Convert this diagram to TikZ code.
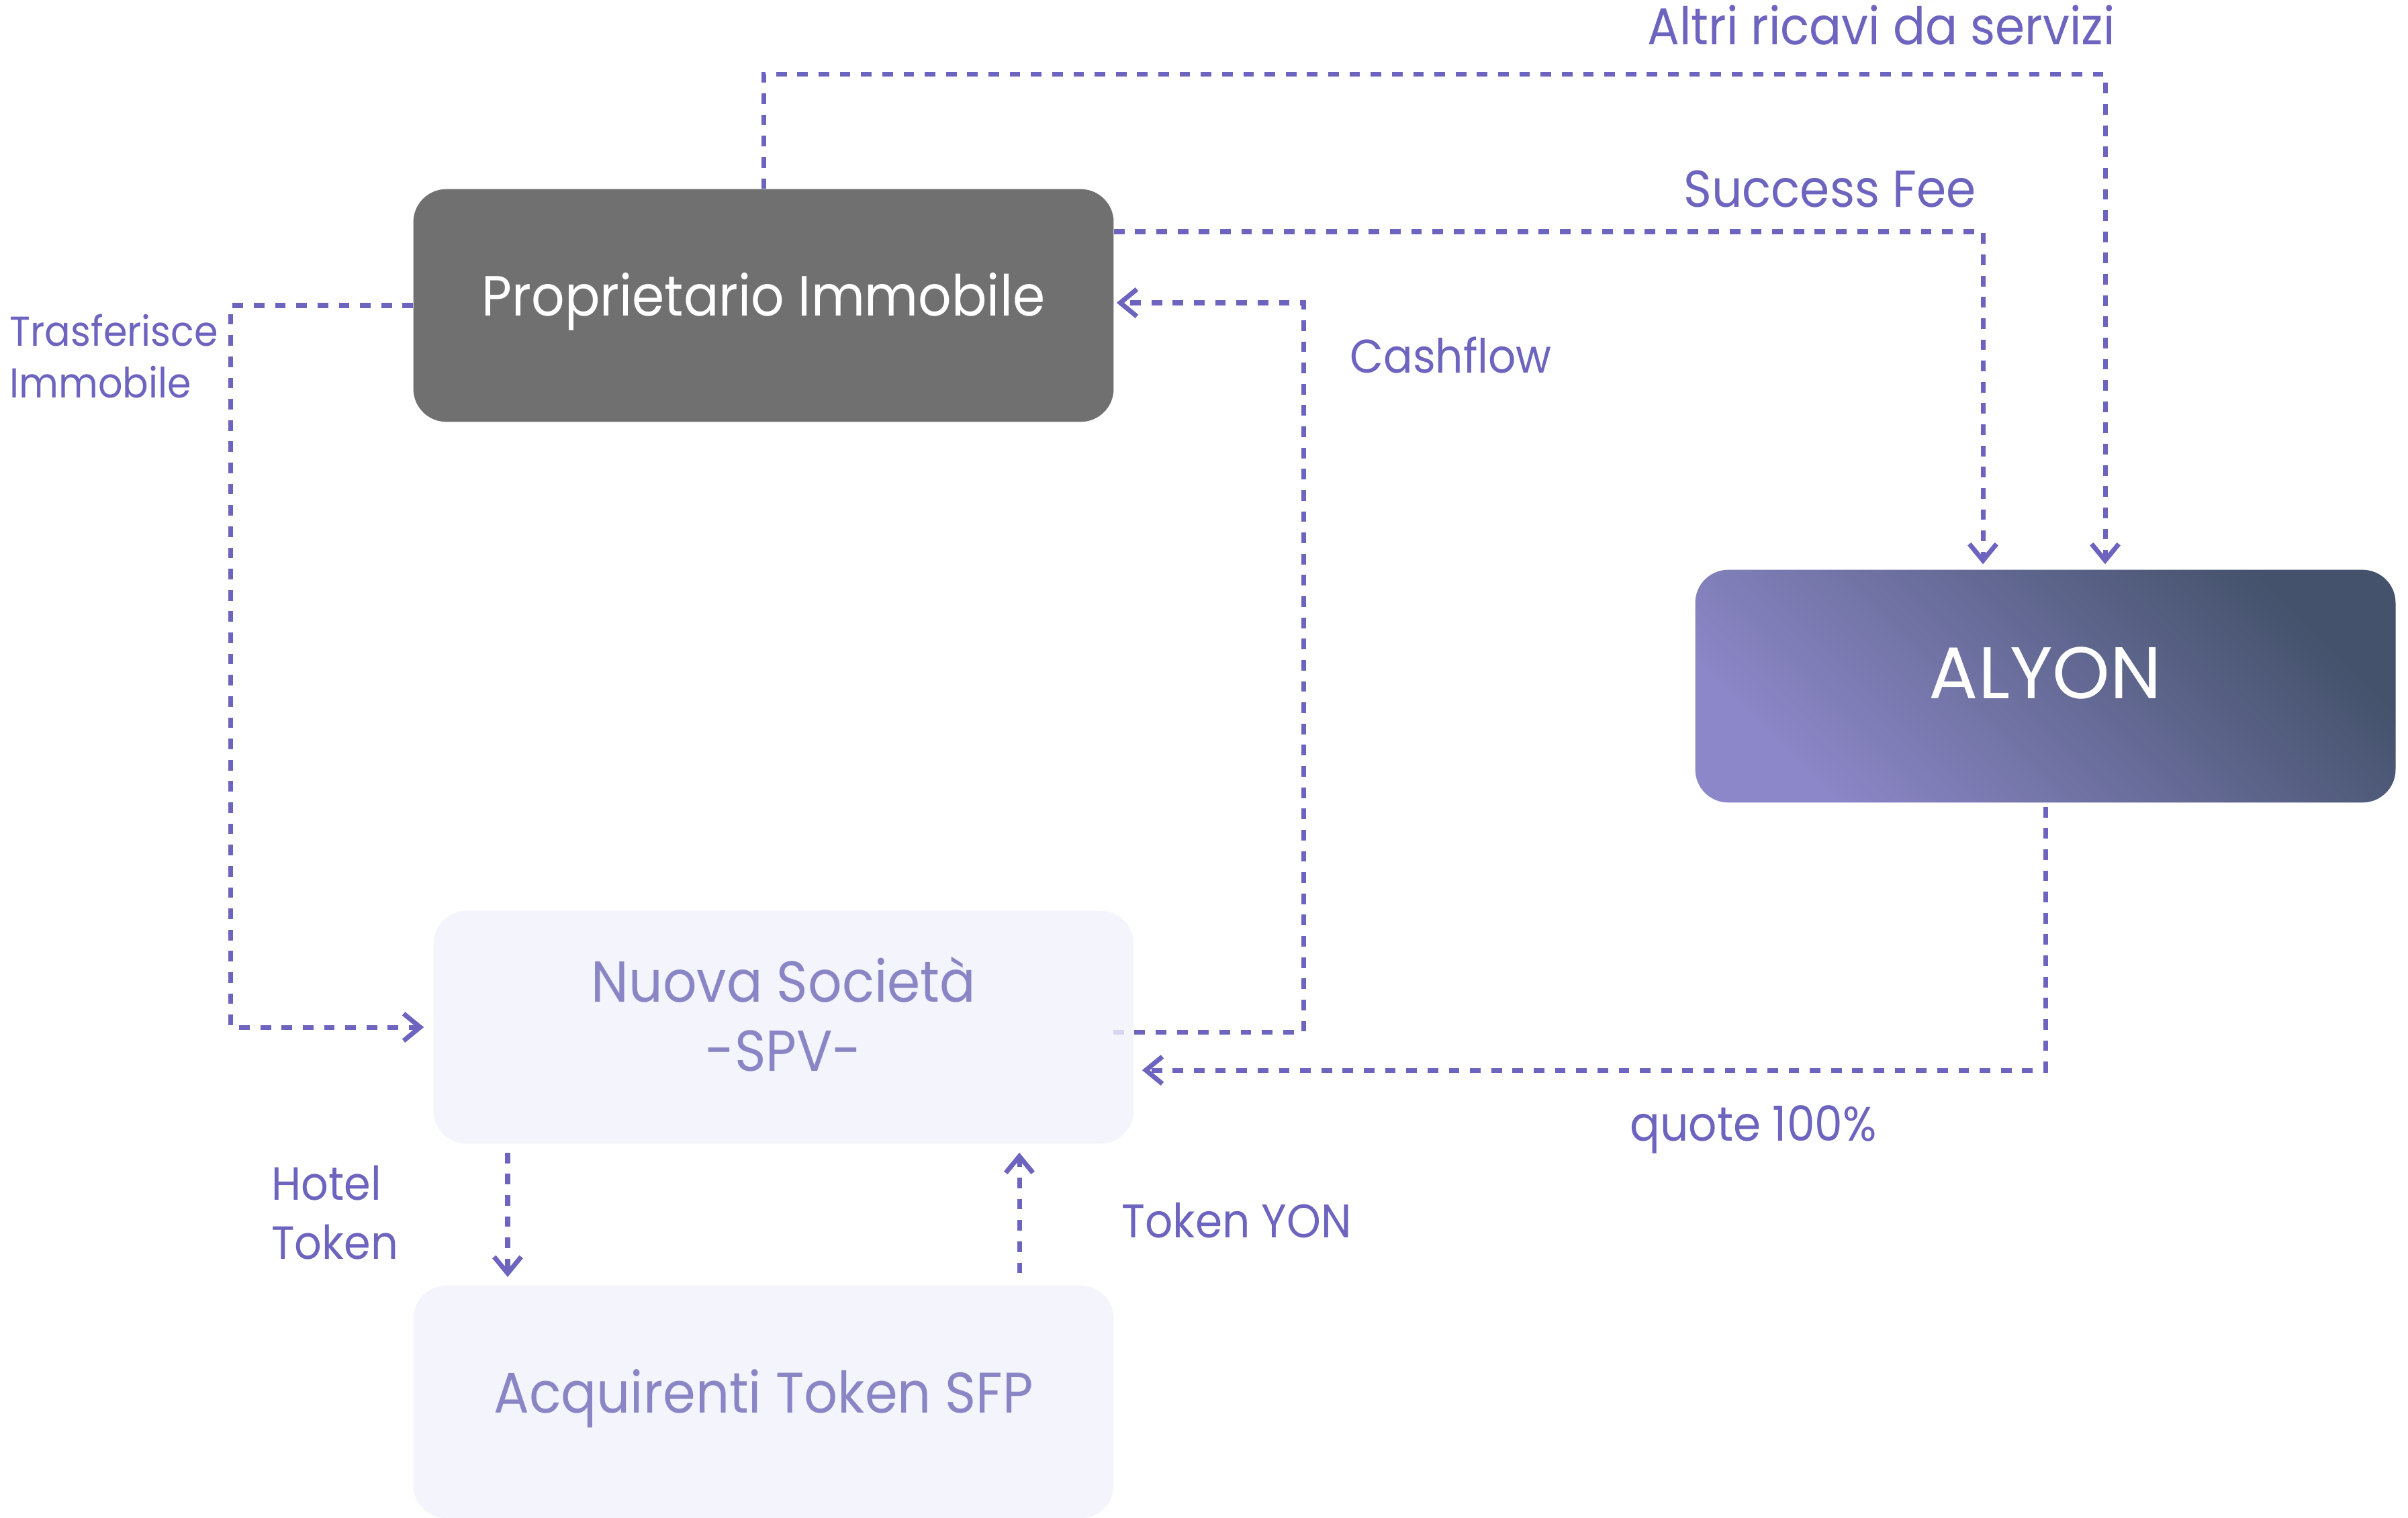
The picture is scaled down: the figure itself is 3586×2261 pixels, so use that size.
\documentclass[tikz,border=0pt]{standalone}
\usepackage{fontspec}
\setmainfont{Poppins}[FakeStretch=0.92]
\newfontfamily\alyfont{Poppins}
\usetikzlibrary{arrows.meta,calc,backgrounds}
\definecolor{flowc}{RGB}{108,100,190}
\definecolor{propc}{RGB}{112,112,112}
\definecolor{spvfill}{RGB}{241,241,251}
\definecolor{acqfill}{RGB}{244,244,252}
\definecolor{softtxt}{RGB}{138,134,198}
\definecolor{alyA}{RGB}{140,135,200}
\definecolor{alyB}{RGB}{68,82,107}
\tikzset{
  box/.style={rectangle, rounded corners=28pt, minimum width=593.6pt, minimum height=197.3pt, inner sep=0pt},
  flow/.style={draw=flowc, line width=4pt, dash pattern=on 9pt off 9pt,
    -{Straight Barb[length=14pt,width=23pt,line width=4pt]}},
  flowlabel/.style={text=flowc, inner sep=0pt, anchor=base west},
}
\begin{document}
\begin{tikzpicture}[x=0.02cm, y=-0.02cm]
\useasboundingbox (0,0) rectangle (3586,2261);

% boxes
\node[box, fill=propc, text=white, font=\fontsize{48}{59}\selectfont,
      text height=30pt, text depth=12pt] (prop) at (1137,455) {Proprietario Immobile};
\node[box, top color=alyA, bottom color=alyB, shading angle=135, text=white,
      font=\alyfont\fontsize{62}{70}\selectfont, text height=35pt, text depth=13.5pt] (alyon) at (3046,1022) {ALYON};
\node[box, fill=spvfill, fill opacity=0.8, text opacity=1, text=softtxt, align=center,
      font=\fontsize{49}{59}\selectfont, text height=80pt, text depth=5.2pt] (spv) at (1167,1530) {Nuova Società\\-SPV-};
\node[box, fill=acqfill, text=softtxt, font=\fontsize{48.5}{59}\selectfont,
      text height=31pt, text depth=11.7pt] (acq) at (1137,2088) {Acquirenti Token SFP};

% labels
\node[flowlabel, font=\fontsize{44}{50}\selectfont] (lalt) at (2453,67) {Altri ricavi da servizi};
\node[flowlabel, font=\fontsize{44}{50}\selectfont] (lsucc) at (2507,308) {Success Fee};
\node[flowlabel, align=left, font=\fontsize{35.4}{43.7}\selectfont] (ltras) at (14,592) {Trasferisce\\Immobile};
\node[flowlabel, font=\fontsize{40}{50}\selectfont] (lcash) at (2010,555) {Cashflow};
\node[flowlabel, font=\fontsize{41}{50}\selectfont] (lquote) at (2427,1699) {quote 100\%};
\node[flowlabel, align=left, font=\fontsize{39.5}{50}\selectfont] (lhotel) at (404,1875) {Hotel\\Token};
\node[flowlabel, font=\fontsize{40}{50}\selectfont] (ltok) at (1670,1843) {Token YON};

\begin{scope}[on background layer]
  % Altri ricavi da servizi
  \draw[flow] (prop.north) -- ++(0,-171) -| ($(alyon.north)+(89,-8)$);
  % Success Fee
  \draw[flow] ($(prop.east)+(0,-110)$) -| ($(alyon.north)+(-93,-8)$);
  % Trasferisce Immobile
  \draw[flow] (prop.west) -- ++(-272,0) |- ($(spv.west)+(-14,0)$);
  % Cashflow
  \draw[flow] ($(spv.east)+(-31,7)$) -- ++(284,0) |- ($(prop.east)+(4,-4)$);
  % quote 100%
  \draw[flow] ($(alyon.south)+(0,6)$) |- ($(spv.east)+(12,64)$);
  % Hotel Token
  \coordinate (h1) at ($(spv.south)+(-411,13)$);
  \draw[flow, shorten >=7pt] (h1) -- (h1 |- acq.north);
  % Token YON
  \coordinate (t1) at ($(acq.north)+(381,-18)$);
  \draw[flow, shorten >=7.4pt] (t1) -- (t1 |- spv.south);
\end{scope}
\end{tikzpicture}
\end{document}
